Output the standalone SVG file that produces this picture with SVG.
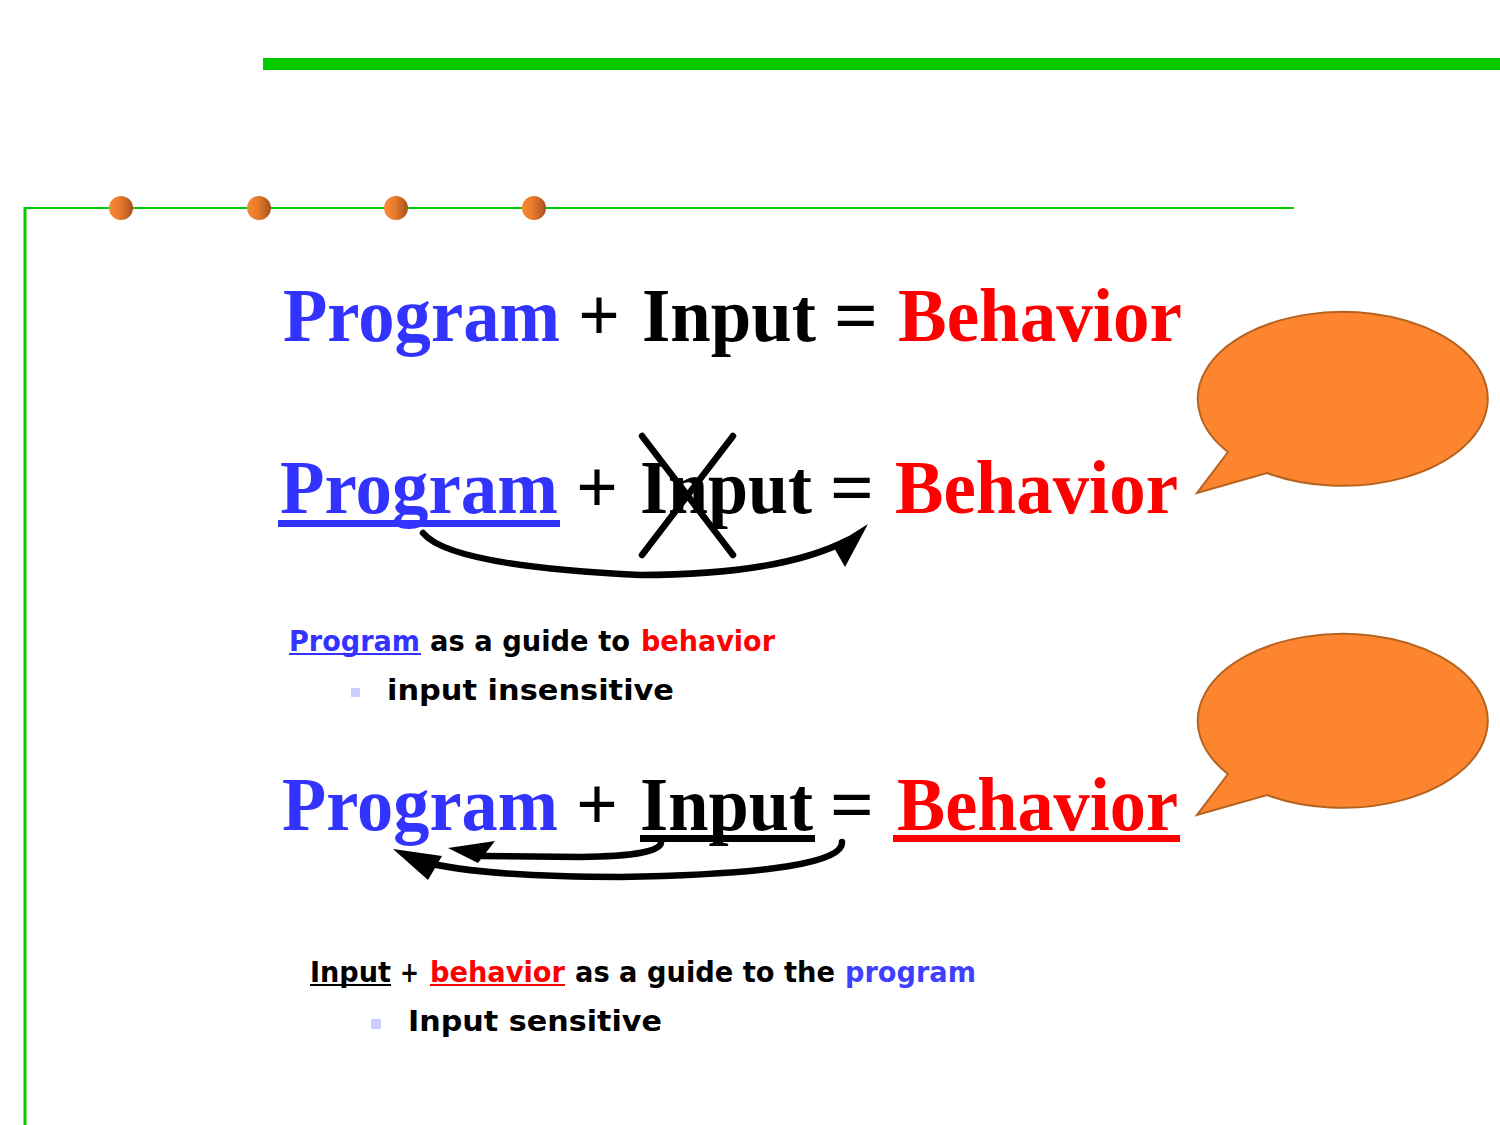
<svg xmlns="http://www.w3.org/2000/svg" width="1500" height="1125" viewBox="0 0 1500 1125">
  <defs>
    <linearGradient id="dotFill" x1="0" y1="0" x2="1" y2="0">
      <stop offset="0" stop-color="#F98A32"/>
      <stop offset="0.45" stop-color="#E97A2C"/>
      <stop offset="1" stop-color="#A5521D"/>
    </linearGradient>
    <style>
      .frame { stroke: #00CC00; fill: none; }
      .dot { fill: url(#dotFill); }
      .eq { font-family: "Liberation Serif", "Times New Roman", serif; font-weight: bold; font-size: 77px; }
      .note { font-family: "DejaVu Sans", "Liberation Sans", sans-serif; font-weight: bold; font-size: 29px; }
      .blue { fill: #3333FF; }
      .red { fill: #FF0000; }
      .blk { fill: #000000; }
      .bubble { fill: #FD852F; stroke: #B5631F; stroke-width: 2; }
      .curve { fill: none; stroke: #000; stroke-width: 6.5; stroke-linecap: round; }
      .bullet { fill: #CCCCFF; }
    </style>
  </defs>

  <!-- slide frame -->
  <g id="frame">
    <rect x="263" y="58" width="1237" height="12" fill="#00CC00"/>
    <line class="frame" x1="24" y1="208" x2="1294" y2="208" stroke-width="2"/>
    <line class="frame" x1="25" y1="207" x2="25" y2="1125" stroke-width="3"/>
    <circle class="dot" cx="121" cy="208" r="12"/>
    <circle class="dot" cx="259" cy="208" r="12"/>
    <circle class="dot" cx="396" cy="208" r="12"/>
    <circle class="dot" cx="534" cy="208" r="12"/>
  </g>

  <!-- equation 1 -->
  <g id="eq1" class="eq">
    <text x="283" y="341" class="blue" textLength="277" lengthAdjust="spacingAndGlyphs">Program</text>
    <text x="578" y="341" class="blk" textLength="42" lengthAdjust="spacingAndGlyphs">+</text>
    <text x="642" y="341" class="blk" textLength="174" lengthAdjust="spacingAndGlyphs">Input</text>
    <text x="834" y="341" class="blk" textLength="44" lengthAdjust="spacingAndGlyphs">=</text>
    <text x="898" y="341" class="red" textLength="284" lengthAdjust="spacingAndGlyphs">Behavior</text>
  </g>

  <!-- equation 2: program alone drives behaviour -->
  <g id="eq2" class="eq">
    <text x="280" y="513" class="blue" textLength="278" lengthAdjust="spacingAndGlyphs">Program</text>
    <rect x="278" y="520" width="282" height="7" fill="#3333FF"/>
    <text x="576" y="513" class="blk" textLength="42" lengthAdjust="spacingAndGlyphs">+</text>
    <text x="640" y="513" class="blk" textLength="172" lengthAdjust="spacingAndGlyphs">Input</text>
    <text x="830" y="513" class="blk" textLength="44" lengthAdjust="spacingAndGlyphs">=</text>
    <text x="895" y="513" class="red" textLength="283" lengthAdjust="spacingAndGlyphs">Behavior</text>
  </g>

  <!-- equation 3: input and behaviour feed back to program -->
  <g id="eq3" class="eq">
    <text x="282" y="830" class="blue" textLength="276" lengthAdjust="spacingAndGlyphs">Program</text>
    <text x="576" y="830" class="blk" textLength="42" lengthAdjust="spacingAndGlyphs">+</text>
    <text x="640" y="830" class="blk" textLength="173" lengthAdjust="spacingAndGlyphs">Input</text>
    <rect x="640" y="835" width="175" height="7" fill="#000"/>
    <text x="830" y="830" class="blk" textLength="44" lengthAdjust="spacingAndGlyphs">=</text>
    <text x="897" y="830" class="red" textLength="281" lengthAdjust="spacingAndGlyphs">Behavior</text>
    <rect x="893" y="835" width="287" height="7" fill="#FF0000"/>
  </g>

  <!-- cross over Input, curved arrows -->
  <g id="connectors">
    <line class="curve" x1="642" y1="436" x2="733" y2="555" stroke-linecap="butt"/>
    <line class="curve" x1="733" y1="436" x2="642" y2="555" stroke-linecap="butt"/>
    <path class="curve" d="M 423 533 Q 450 566 640 575 Q 780 575 848 540"/>
    <polygon points="868,524 845,567 833,546" fill="#000"/>

    <path class="curve" d="M 661 842 Q 662 856 580 857 L 482 856"/>
    <polygon points="448,848 495,841 478,863" fill="#000"/>
    <path class="curve" d="M 842 842 Q 845 873 620 877 Q 480 877 420 861"/>
    <polygon points="393,849 442,856 428,880" fill="#000"/>
  </g>

  <!-- explanatory notes -->
  <g id="note1" class="note">
    <text x="289" y="651" class="blue" textLength="131" lengthAdjust="spacingAndGlyphs">Program</text>
    <rect x="289" y="653" width="132" height="2" fill="#3333FF"/>
    <text x="430" y="651" class="blk" textLength="200" lengthAdjust="spacingAndGlyphs">as a guide to</text>
    <text x="641" y="651" class="red" textLength="134" lengthAdjust="spacingAndGlyphs">behavior</text>
    <rect class="bullet" x="351" y="688" width="9" height="9"/>
    <text x="387" y="700" class="blk" textLength="287" lengthAdjust="spacingAndGlyphs">input insensitive</text>
  </g>

  <g id="note2" class="note">
    <text x="310" y="982" class="blk" textLength="81" lengthAdjust="spacingAndGlyphs">Input</text>
    <rect x="310" y="984" width="81" height="2" fill="#000"/>
    <text x="400" y="982" class="blk" textLength="19" lengthAdjust="spacingAndGlyphs">+</text>
    <text x="430" y="982" class="red" textLength="135" lengthAdjust="spacingAndGlyphs">behavior</text>
    <rect x="430" y="984" width="135" height="2" fill="#FF0000"/>
    <text x="575" y="982" class="blk" textLength="260" lengthAdjust="spacingAndGlyphs">as a guide to the</text>
    <text x="845" y="982" fill="#3F3FFF" textLength="131" lengthAdjust="spacingAndGlyphs">program</text>
    <rect class="bullet" x="371" y="1019" width="10" height="10"/>
    <text x="408" y="1031" class="blk" textLength="254" lengthAdjust="spacingAndGlyphs">Input sensitive</text>
  </g>

  <!-- speech bubbles -->
  <g id="bubble1">
    <path class="bubble" d="M 1267 473 A 145 87 0 1 0 1228 452 L 1197 493 Z"/>
  </g>
  <g id="bubble2">
    <path class="bubble" d="M 1267 795 A 145 87 0 1 0 1228 774 L 1197 815 Z"/>
  </g>
</svg>
